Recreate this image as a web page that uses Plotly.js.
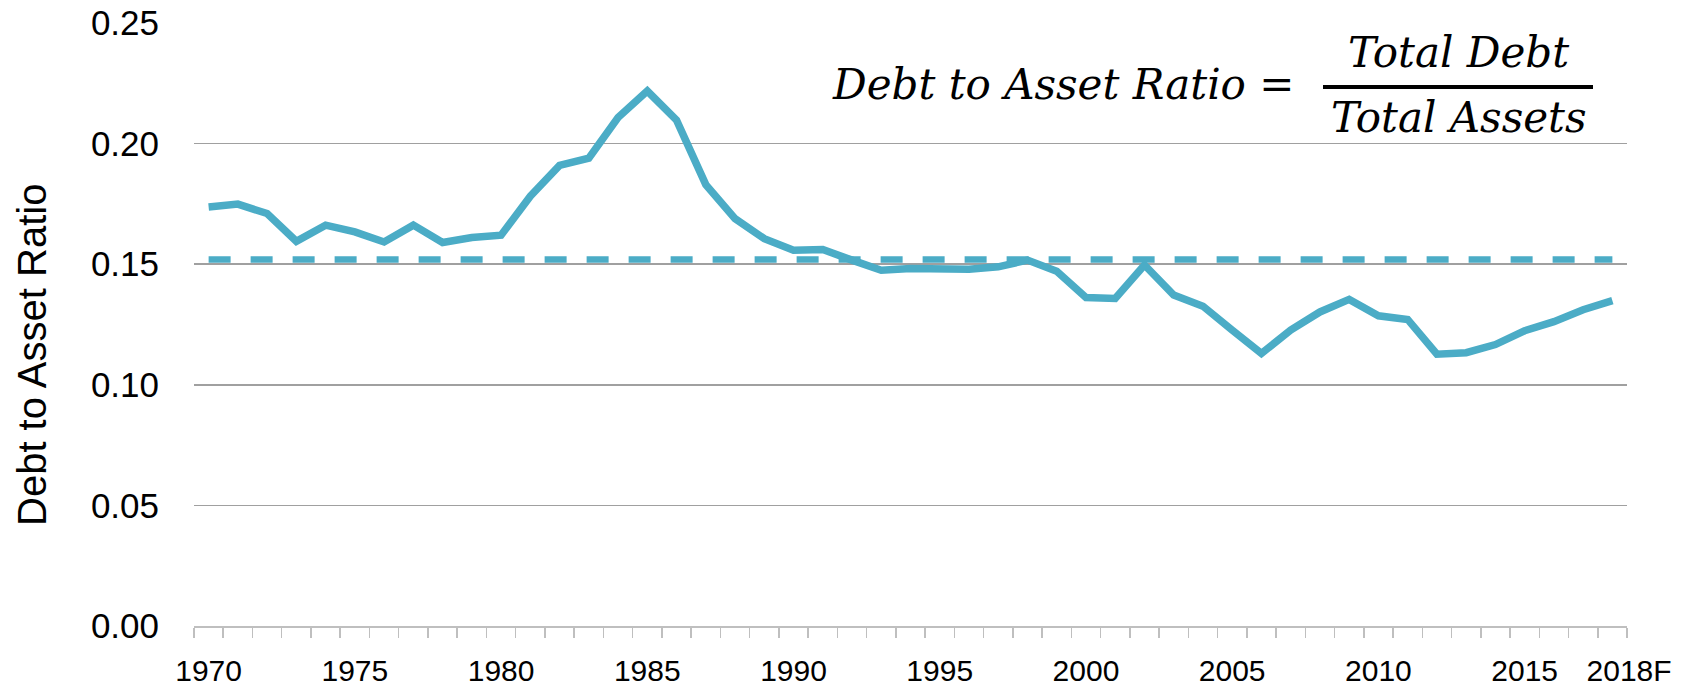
<!DOCTYPE html>
<html>
<head>
<meta charset="utf-8">
<script src="https://cdn.plot.ly/plotly-3.0.1.min.js"></script>
<style>
  html, body { margin: 0; padding: 0; background: #ffffff; }
  #chart { width: 1690px; height: 690px; }
</style>
</head>
<body>
<div id="chart"></div>
<script>
// ---- data ----
const years = [1970,1971,1972,1973,1974,1975,1976,1977,1978,1979,
               1980,1981,1982,1983,1984,1985,1986,1987,1988,1989,
               1990,1991,1992,1993,1994,1995,1996,1997,1998,1999,
               2000,2001,2002,2003,2004,2005,2006,2007,2008,2009,
               2010,2011,2012,2013,2014,2015,2016,2017,2018];
const debtToAsset = [0.1737,0.1749,0.1710,0.1595,0.1662,0.1634,0.1592,0.1662,0.1590,0.1611,
                     0.1620,0.1782,0.1910,0.1940,0.2108,0.2218,0.2097,0.1830,0.1689,0.1606,
                     0.1558,0.1561,0.1517,0.1475,0.1482,0.1479,0.1479,0.1489,0.1517,0.1471,
                     0.1362,0.1358,0.1497,0.1372,0.1326,0.1227,0.1130,0.1227,0.1302,0.1354,
                     0.1286,0.1271,0.1127,0.1133,0.1167,0.1224,0.1262,0.1311,0.1349];
const averageRatio = 0.152;
const xTickVals = [1970,1975,1980,1985,1990,1995,2000,2005,2010,2015,2018];
const xTickText = ["1970","1975","1980","1985","1990","1995","2000","2005","2010","2015","\u00A0\u00A0\u00A0\u00A02018F"];
const yTickVals = [0, 0.05, 0.10, 0.15, 0.20, 0.25];
const yTitle = "Debt to Asset Ratio";
const formulaLeft = "Debt to Asset Ratio =";
const formulaNum = "Total Debt";
const formulaDen = "Total Assets";

const lineColor = "#4BACC6";

const traces = [
  {
    x: years, y: debtToAsset, type: "scatter", mode: "lines",
    line: { color: lineColor, width: 7.5 },
    hoverinfo: "x+y", showlegend: false
  },
  {
    x: years, y: years.map(() => averageRatio), type: "scatter", mode: "lines",
    line: { color: lineColor, width: 6.5, dash: "22px,20px" },
    hoverinfo: "y", showlegend: false
  }
];

const tickFont = { family: "Liberation Sans, Arial, sans-serif", size: 35, color: "#000000" };
const mathFont = { family: "DejaVu Serif, serif", size: 42, color: "#000000" };

const layout = {
  width: 1690, height: 690,
  margin: { l: 194, r: 63, t: 23, b: 64, pad: 0 },
  paper_bgcolor: "#ffffff", plot_bgcolor: "#ffffff",
  showlegend: false,
  xaxis: {
    type: "linear",
    range: [1969.5, 2018.5],
    tickmode: "array", tickvals: xTickVals, ticktext: xTickText,
    tickangle: 0,
    ticks: "", showgrid: false, zeroline: false,
    showline: true, linecolor: "#BFBFBF", linewidth: 1.5,
    tickfont: { family: "Liberation Sans, Arial, sans-serif", size: 30, color: "#000000" },
    ticklabelstandoff: 17,
    minor: { tick0: 1969.5, dtick: 1, ticks: "outside", ticklen: 10, tickwidth: 1.5, tickcolor: "#BFBFBF", showgrid: false }
  },
  yaxis: {
    range: [0, 0.25],
    tickmode: "array", tickvals: yTickVals, tickformat: ".2f",
    ticks: "", showline: false, zeroline: false,
    showgrid: true, gridcolor: "#A0A0A0", gridwidth: 1.5,
    tickfont: tickFont,
    ticklabelstandoff: 34
  },
  annotations: [
    {
      xref: "paper", yref: "paper", x: (32 - 194) / 1433, y: (626 - 355) / 603,
      xanchor: "center", yanchor: "middle", textangle: -90, showarrow: false,
      text: yTitle, font: { family: "Liberation Sans, Arial, sans-serif", size: 40, color: "#000000" }
    },
    {
      xref: "paper", yref: "paper", x: (1296 - 194) / 1433, y: (626 - 84) / 603,
      xanchor: "right", yanchor: "middle", showarrow: false,
      text: "<i>" + formulaLeft + "</i>", font: mathFont
    },
    {
      xref: "paper", yref: "paper", x: (1458 - 194) / 1433, y: (626 - 52) / 603,
      xanchor: "center", yanchor: "middle", showarrow: false,
      text: "<i>" + formulaNum + "</i>", font: mathFont
    },
    {
      xref: "paper", yref: "paper", x: (1458 - 194) / 1433, y: (626 - 118) / 603,
      xanchor: "center", yanchor: "middle", showarrow: false,
      text: "<i>" + formulaDen + "</i>", font: mathFont
    }
  ],
  shapes: [
    {
      type: "line", xref: "paper", yref: "paper",
      x0: (1323 - 194) / 1433, x1: (1593 - 194) / 1433,
      y0: (626 - 87) / 603, y1: (626 - 87) / 603,
      line: { color: "#000000", width: 4 }
    }
  ]
};

Plotly.newPlot("chart", traces, layout, { displayModeBar: false, staticPlot: true });
</script>
</body>
</html>
